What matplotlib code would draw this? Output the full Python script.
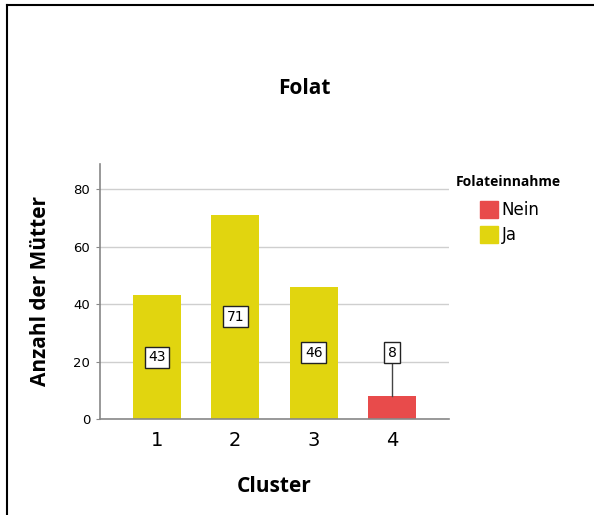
import matplotlib.pyplot as plt
from matplotlib.patches import Patch
from matplotlib.lines import Line2D

clusters = [1, 2, 3, 4]
counts = [43, 71, 46, 8]
intake = ['Ja', 'Ja', 'Ja', 'Nein']
label_y = [21.5, 35.5, 23.0, 23.0]

colors = {'Nein': '#E84B4B', 'Ja': '#E1D50F'}

fig = plt.figure(figsize=(5.94, 5.15), dpi=100)
ax = fig.add_axes([100 / 594, (515 - 419) / 515, 349 / 594, 255 / 515])

ax.bar(clusters, counts, width=0.61, color=[colors[c] for c in intake], zorder=2)

for x, v, ly in zip(clusters, counts, label_y):
    if ly > v:
        ax.plot([x, x], [v, ly], color='#444444', lw=1, zorder=3)
    ax.text(x, ly, str(v), ha='center', va='center', fontsize=10, zorder=4,
            bbox=dict(boxstyle='square,pad=0.25', fc='white', ec='#222222', lw=1))

ax.set_xlim(0.274, 4.726)
ax.set_ylim(0, 88.7)
ax.set_yticks([0, 20, 40, 60, 80])
ax.set_xticks(clusters)
ax.set_xticklabels([str(c) for c in clusters], fontsize=14)
ax.tick_params(axis='y', labelsize=9.5, length=3, color='#888888', pad=4)
ax.tick_params(axis='x', length=0, pad=9)
ax.grid(axis='y', color='#cfcfcf', lw=1, zorder=0)
ax.set_axisbelow(True)
for s in ['top', 'right']:
    ax.spines[s].set_visible(False)
for s in ['left', 'bottom']:
    ax.spines[s].set_color('#888888')
    ax.spines[s].set_linewidth(1.2)

ax.set_ylabel('Anzahl der Mütter', fontsize=15, fontweight='bold', family='Open Sans', labelpad=16)
ax.set_xlabel('Cluster', fontsize=15, fontweight='bold', family='Open Sans', labelpad=18)
fig.text(304 / 594, 1 - 88 / 515, 'Folat', ha='center', va='center', fontsize=15,
         fontweight='bold', family='Open Sans')

# legend: title placed separately, entries indented below it
fig.text(456 / 594, 1 - 182 / 515, 'Folateinnahme', ha='left', va='center', fontsize=10,
         fontweight='bold', family='Open Sans')
handles = [Patch(color=colors['Nein'], label='Nein'), Patch(color=colors['Ja'], label='Ja')]
fig.legend(handles=handles, loc='upper left',
           bbox_to_anchor=(480 / 594, 1 - 201 / 515), frameon=False,
           fontsize=12, handlelength=1.05, handleheight=1.15, handletextpad=0.25,
           labelspacing=0.42, borderaxespad=0, borderpad=0)

# outer frame
fig.add_artist(Line2D([7 / 594, 7 / 594], [0, 1 - 5 / 515], color='black', lw=1.5))
fig.add_artist(Line2D([7 / 594, 1], [1 - 5 / 515, 1 - 5 / 515], color='black', lw=1.5))

fig.savefig('out.png', dpi=100)
